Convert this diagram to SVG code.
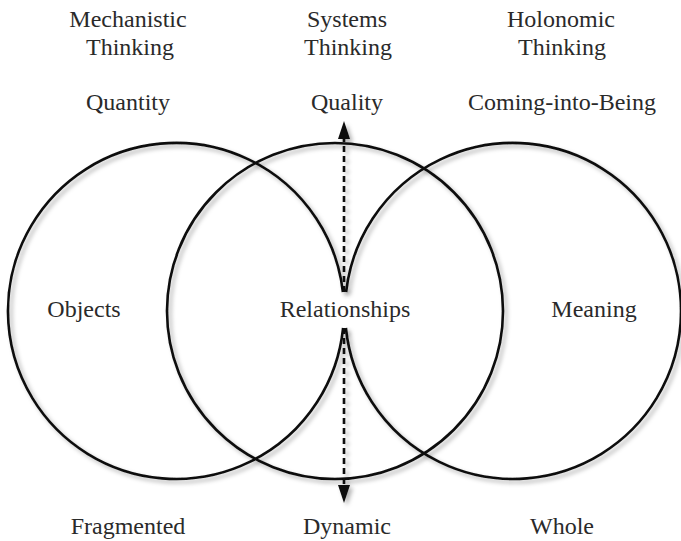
<svg xmlns="http://www.w3.org/2000/svg" width="681" height="541" viewBox="0 0 681 541">
  <defs>
    <filter id="shadow" filterUnits="userSpaceOnUse" x="0" y="0" width="681" height="541">
      <feDropShadow dx="3" dy="3" stdDeviation="2" flood-color="#000" flood-opacity="0.3"/>
    </filter>
    <marker id="head" markerUnits="userSpaceOnUse" markerWidth="19" markerHeight="13" refX="0" refY="6" orient="auto">
      <path d="M0,0 L18,6 L0,12 z" fill="#111"/>
    </marker>
  </defs>
  <style>
    .ring { fill: none; stroke: #111; stroke-width: 2.6; }
    .dash { stroke: #111; stroke-width: 2.6; stroke-dasharray: 6 4; fill: none; }
    text { font-family: "Liberation Serif", "DejaVu Serif", serif; font-size: 24px; fill: #2a2a2a; text-anchor: middle; }
  </style>
  <rect width="681" height="541" fill="#fff"/>

  <g id="circle-left" filter="url(#shadow)">
    <path class="ring" d="M 342.9 292 A 168 168 0 1 0 343.1 328"/>
  </g>
  <g id="circle-middle" filter="url(#shadow)">
    <circle class="ring" cx="335" cy="311" r="168"/>
  </g>
  <g id="circle-right" filter="url(#shadow)">
    <path class="ring" d="M 346.1 292 A 168 168 0 1 1 345.9 328"/>
  </g>

  <g id="connectors" filter="url(#shadow)">
    <line class="dash" x1="344" y1="292" x2="344" y2="139" marker-end="url(#head)"/>
    <line class="dash" x1="344" y1="328" x2="344" y2="485" marker-end="url(#head)"/>
  </g>

  <g id="header-mechanistic">
    <text x="128" y="27">Mechanistic</text>
    <text x="130" y="55">Thinking</text>
  </g>
  <g id="header-systems">
    <text x="347" y="27">Systems</text>
    <text x="348" y="55">Thinking</text>
  </g>
  <g id="header-holonomic">
    <text x="561" y="27">Holonomic</text>
    <text x="562" y="55">Thinking</text>
  </g>

  <g id="label-quantity"><text x="128" y="110">Quantity</text></g>
  <g id="label-quality"><text x="347" y="110">Quality</text></g>
  <g id="label-coming"><text x="562" y="110">Coming-into-Being</text></g>

  <g id="node-objects"><text x="84" y="317">Objects</text></g>
  <g id="node-relationships"><text x="345" y="317">Relationships</text></g>
  <g id="node-meaning"><text x="594" y="317">Meaning</text></g>

  <g id="label-fragmented"><text x="128" y="534">Fragmented</text></g>
  <g id="label-dynamic"><text x="347" y="534">Dynamic</text></g>
  <g id="label-whole"><text x="562" y="534">Whole</text></g>
</svg>
